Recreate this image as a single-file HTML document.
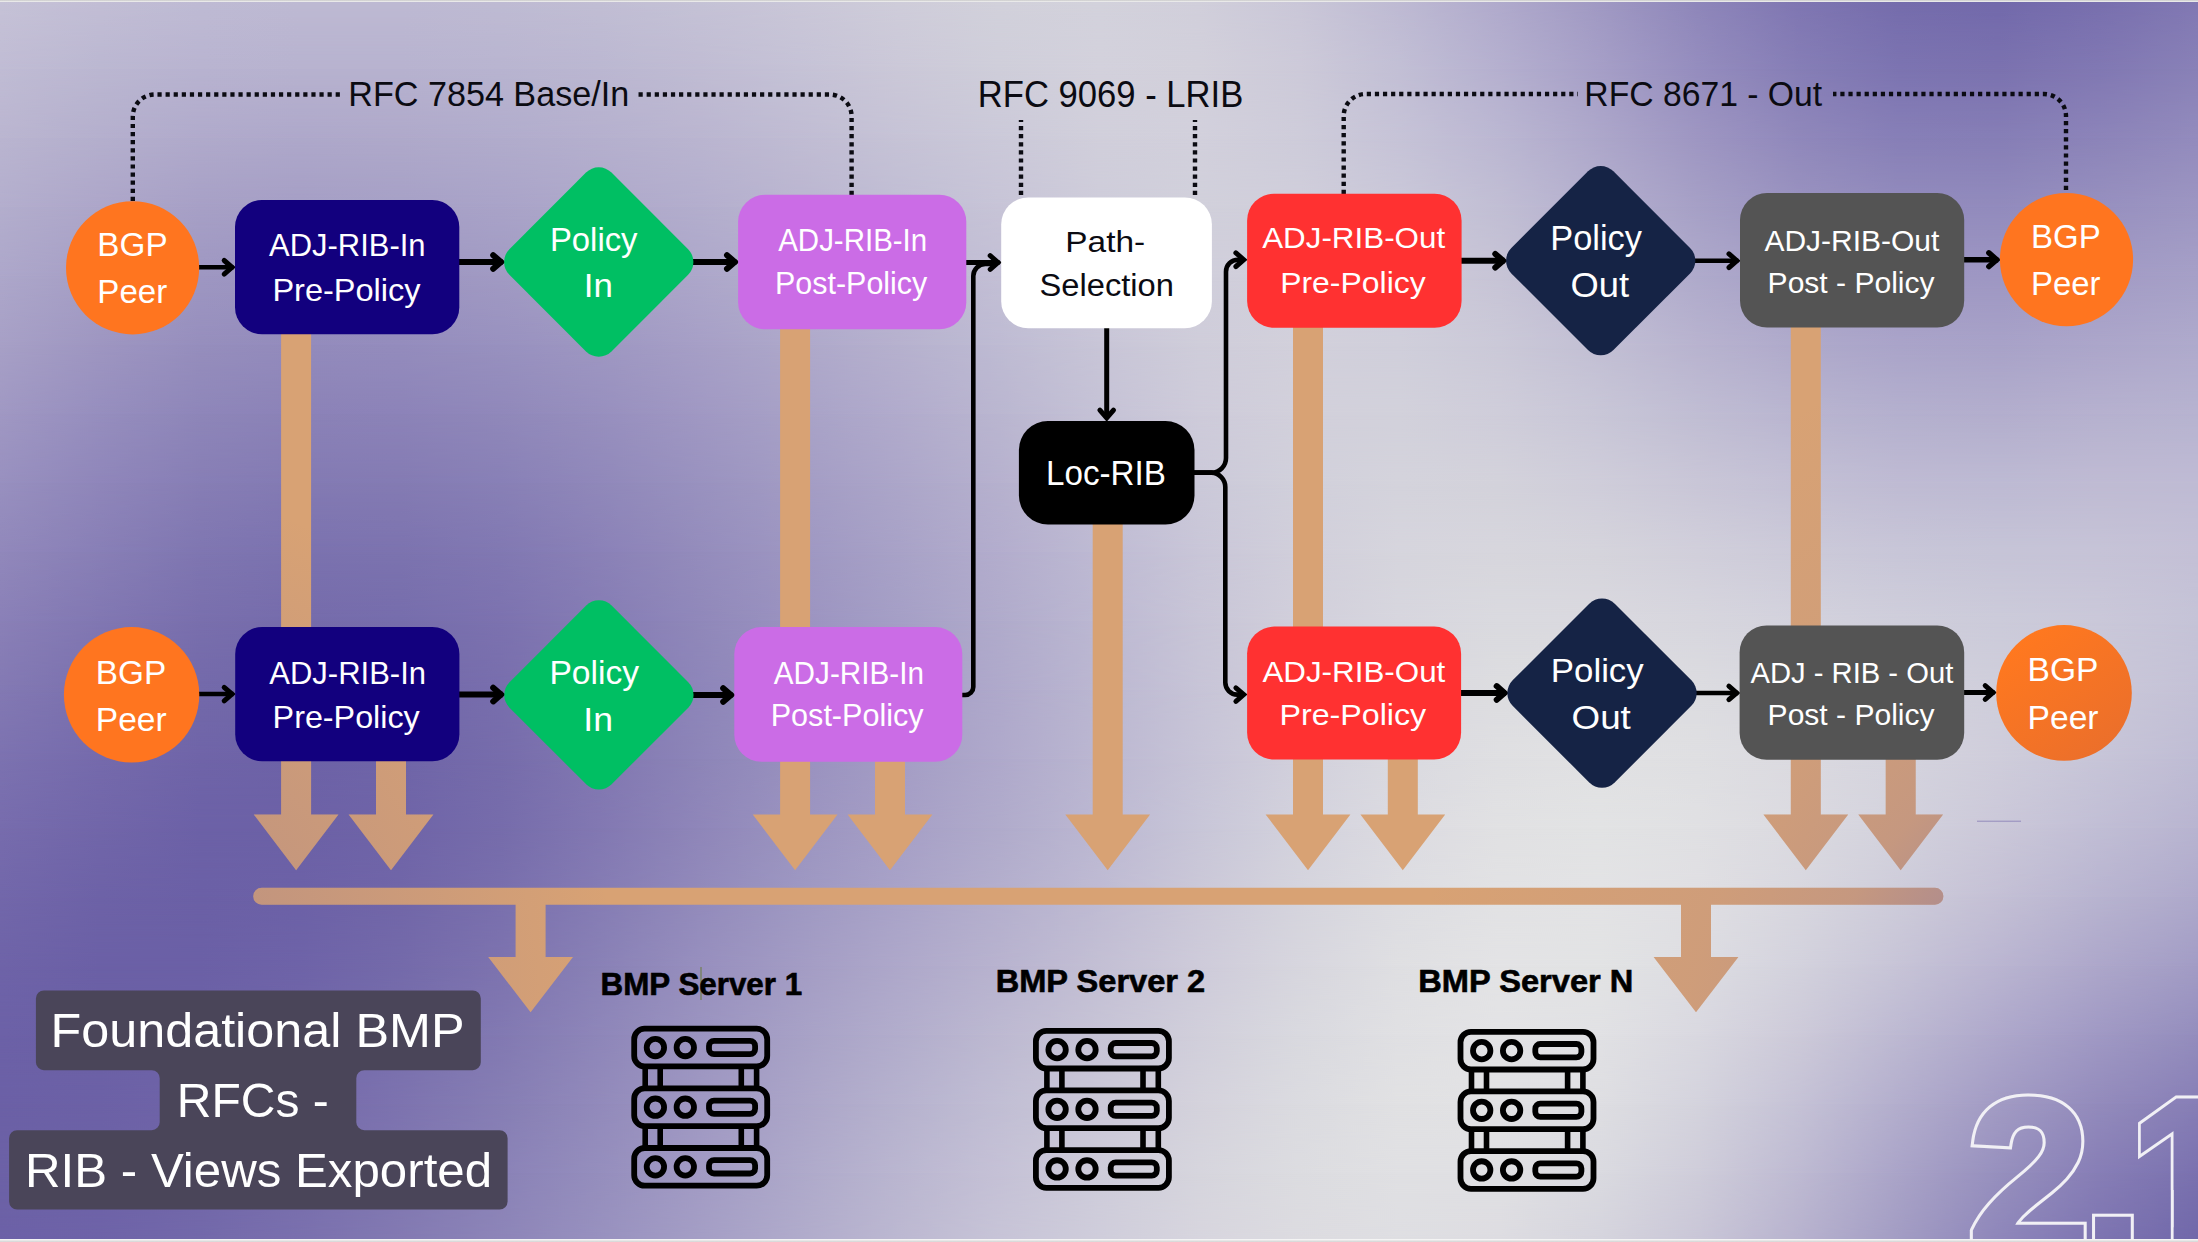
<!DOCTYPE html>
<html><head><meta charset="utf-8"><title>Foundational BMP RFCs - RIB Views Exported</title>
<style>
html,body{margin:0;padding:0}
body{width:2198px;height:1242px;overflow:hidden;position:relative;background:#d6d5dc;font-family:"Liberation Sans",sans-serif}
svg{position:absolute;left:0;top:0}
svg text{font-family:"Liberation Sans",sans-serif;white-space:pre}
.edge{position:absolute;left:0;width:2198px}
</style></head><body>
<div style="position:absolute;left:0;top:0;width:2198px;height:1242px;background:linear-gradient(90deg,#c6c2d7 0px,#c2bed5 100px,#bfbbd4 200px,#bebad3 300px,#bebad3 400px,#bfbbd3 500px,#c1bed4 599px,#c5c2d6 699px,#cac7d8 799px,#cfcdda 899px,#d2d1db 999px,#d3d2dc 1099px,#d1cfdb 1199px,#cac7d8 1299px,#bebad3 1399px,#b0aacc 1499px,#a099c3 1599px,#8e86ba 1698px,#7f76b2 1798px,#756cac 1898px,#7269ab 1998px,#786fae 2098px,#8178b3 2198px)"></div>
<div style="position:absolute;left:0;top:0.0px;width:2198px;height:1242.0px;background:linear-gradient(90deg,#c0bcd4 0px,#bbb7d1 100px,#b8b3d0 200px,#b7b2cf 300px,#b7b2cf 400px,#b8b4d0 500px,#bbb7d1 599px,#c0bcd3 699px,#c5c2d6 799px,#cbc8d8 899px,#cfceda 999px,#d3d1dc 1099px,#d2d0db 1199px,#cdcad9 1299px,#c2bfd5 1399px,#b5b0cf 1499px,#a69fc7 1599px,#958dbe 1698px,#867eb6 1798px,#7c74b1 1898px,#7b72af 1998px,#8178b3 2098px,#8981b7 2198px);-webkit-mask-image:linear-gradient(180deg,transparent 0,#000 69.0px);mask-image:linear-gradient(180deg,transparent 0,#000 69.0px)"></div>
<div style="position:absolute;left:0;top:69.0px;width:2198px;height:1173.0px;background:linear-gradient(90deg,#bab5d0 0px,#b4afcd 100px,#b0aacb 200px,#aea8ca 300px,#afa9ca 400px,#b1accc 500px,#b5b0ce 599px,#bab5d0 699px,#c0bcd3 799px,#c6c3d6 899px,#cbc9d9 999px,#d1cfdb 1099px,#d2d0dc 1199px,#ceccda 1299px,#c6c3d7 1399px,#bbb7d2 1499px,#ada7ca 1599px,#9e96c2 1698px,#9088bb 1798px,#877fb7 1898px,#867eb6 1998px,#8c84b9 2098px,#938bbd 2198px);-webkit-mask-image:linear-gradient(180deg,transparent 0,#000 69.0px);mask-image:linear-gradient(180deg,transparent 0,#000 69.0px)"></div>
<div style="position:absolute;left:0;top:138.0px;width:2198px;height:1104.0px;background:linear-gradient(90deg,#b3aecd 0px,#ada6c9 100px,#a7a0c6 200px,#a59ec5 300px,#a6a0c6 400px,#a9a3c8 500px,#aea8ca 599px,#b3aecd 699px,#bab5d0 799px,#c0bdd4 899px,#c7c4d7 999px,#ceccda 1099px,#d1d0db 1199px,#d0cedb 1299px,#cac8d9 1399px,#c1bed4 1499px,#b4afce 1599px,#a6a0c6 1698px,#9a93c0 1798px,#938cbd 1898px,#928bbd 1998px,#9790bf 2098px,#9d96c2 2198px);-webkit-mask-image:linear-gradient(180deg,transparent 0,#000 69.0px);mask-image:linear-gradient(180deg,transparent 0,#000 69.0px)"></div>
<div style="position:absolute;left:0;top:207.0px;width:2198px;height:1035.0px;background:linear-gradient(90deg,#ada7ca 0px,#a59ec5 100px,#9e97c2 200px,#9c94c0 300px,#9d96c1 400px,#a19ac3 500px,#a6a0c6 599px,#ada7ca 699px,#b4afcd 799px,#bbb7d1 899px,#c3bfd5 999px,#cbc9d9 1099px,#d0cedb 1199px,#d1cfdb 1299px,#ceccda 1399px,#c7c4d6 1499px,#bbb7d1 1599px,#afaacb 1698px,#a59fc6 1798px,#9f98c3 1898px,#9e97c3 1998px,#a29bc5 2098px,#a6a0c7 2198px);-webkit-mask-image:linear-gradient(180deg,transparent 0,#000 69.0px);mask-image:linear-gradient(180deg,transparent 0,#000 69.0px)"></div>
<div style="position:absolute;left:0;top:276.0px;width:2198px;height:966.0px;background:linear-gradient(90deg,#a7a0c6 0px,#9e96c1 100px,#968ebd 200px,#938bbc 300px,#948cbd 400px,#9891bf 500px,#9e97c2 599px,#a69fc6 699px,#aea8ca 799px,#b6b1ce 899px,#bebbd3 999px,#c8c5d7 1099px,#cfcdda 1199px,#d2d0db 1299px,#d0cfdb 1399px,#cbc9d8 1499px,#c2bfd4 1599px,#b8b3cf 1698px,#afaacb 1798px,#aaa4c9 1898px,#a8a2c8 1998px,#aca6ca 2098px,#afaacc 2198px);-webkit-mask-image:linear-gradient(180deg,transparent 0,#000 69.0px);mask-image:linear-gradient(180deg,transparent 0,#000 69.0px)"></div>
<div style="position:absolute;left:0;top:345.0px;width:2198px;height:897.0px;background:linear-gradient(90deg,#a098c3 0px,#968ebe 100px,#8e86b9 200px,#8b82b7 300px,#8c83b8 400px,#9088ba 500px,#978fbe 599px,#a098c3 699px,#a8a2c7 799px,#b1abcc 899px,#bab6d0 999px,#c5c2d6 1099px,#cecbda 1199px,#d2d0db 1299px,#d2d1db 1399px,#cfcdda 1499px,#c8c6d7 1599px,#c0bdd3 1698px,#b9b5d0 1798px,#b4b0ce 1898px,#b3aecd 1998px,#b6b1cf 2098px,#b7b3d0 2198px);-webkit-mask-image:linear-gradient(180deg,transparent 0,#000 69.0px);mask-image:linear-gradient(180deg,transparent 0,#000 69.0px)"></div>
<div style="position:absolute;left:0;top:414.0px;width:2198px;height:828.0px;background:linear-gradient(90deg,#9890bf 0px,#8f86ba 100px,#877eb5 200px,#837ab3 300px,#847bb3 400px,#8880b6 500px,#9088ba 599px,#9992bf 699px,#a39cc4 799px,#aca6c9 899px,#b6b1ce 999px,#c2bed4 1099px,#cbc9d9 1199px,#d1d0db 1299px,#d4d3dc 1399px,#d3d2db 1499px,#cfcdda 1599px,#c9c6d7 1698px,#c3c0d5 1798px,#bfbbd3 1898px,#bdbad3 1998px,#bfbbd3 2098px,#bfbbd4 2198px);-webkit-mask-image:linear-gradient(180deg,transparent 0,#000 69.0px);mask-image:linear-gradient(180deg,transparent 0,#000 69.0px)"></div>
<div style="position:absolute;left:0;top:483.0px;width:2198px;height:759.0px;background:linear-gradient(90deg,#9188bb 0px,#887fb6 100px,#7f76b1 200px,#7b72af 300px,#7c73af 400px,#8178b2 500px,#8a81b7 599px,#948cbc 699px,#9e97c2 799px,#a8a2c7 899px,#b3adcd 999px,#bebad3 1099px,#c9c6d8 1199px,#d1cfdb 1299px,#d6d5dd 1399px,#d7d6dd 1499px,#d5d4dc 1599px,#d1cfdb 1698px,#cccad9 1798px,#c8c6d8 1898px,#c6c4d7 1998px,#c6c3d7 2098px,#c4c0d6 2198px);-webkit-mask-image:linear-gradient(180deg,transparent 0,#000 69.0px);mask-image:linear-gradient(180deg,transparent 0,#000 69.0px)"></div>
<div style="position:absolute;left:0;top:552.0px;width:2198px;height:690.0px;background:linear-gradient(90deg,#8a80b7 0px,#8177b2 100px,#796fad 200px,#756bab 300px,#766dac 400px,#7c72af 500px,#857cb4 599px,#9088ba 699px,#9b93c0 799px,#a59fc6 899px,#b0abcb 999px,#bcb8d2 1099px,#c8c5d7 1199px,#d1cfdb 1299px,#d7d6de 1399px,#dadadf 1499px,#dad9df 1599px,#d7d6de 1698px,#d3d2dd 1798px,#cfcedb 1898px,#cccbda 1998px,#cac8d9 2098px,#c5c3d7 2198px);-webkit-mask-image:linear-gradient(180deg,transparent 0,#000 69.0px);mask-image:linear-gradient(180deg,transparent 0,#000 69.0px)"></div>
<div style="position:absolute;left:0;top:621.0px;width:2198px;height:621.0px;background:linear-gradient(90deg,#8379b3 0px,#7a70ae 100px,#7369aa 200px,#7066a8 300px,#7268a9 400px,#786ead 500px,#8279b2 599px,#8d85b9 699px,#9991bf 799px,#a49dc5 899px,#afa9cb 999px,#bbb7d1 1099px,#c7c4d7 1199px,#d1cfdb 1299px,#d9d8df 1399px,#dddde0 1499px,#dedee1 1599px,#dcdce0 1698px,#d8d7df 1798px,#d4d3dd 1898px,#cfcedb 1998px,#cac8d9 2098px,#c4c1d6 2198px);-webkit-mask-image:linear-gradient(180deg,transparent 0,#000 69.0px);mask-image:linear-gradient(180deg,transparent 0,#000 69.0px)"></div>
<div style="position:absolute;left:0;top:690.0px;width:2198px;height:552.0px;background:linear-gradient(90deg,#7c72b0 0px,#756aac 100px,#6f64a8 200px,#6d62a7 300px,#6f65a8 400px,#766cab 500px,#8177b1 599px,#8d85b8 699px,#9991bf 799px,#a49dc5 899px,#afa9cb 999px,#bbb7d1 1099px,#c7c4d7 1199px,#d2d0dc 1299px,#dadae0 1399px,#dfdfe2 1499px,#e1e1e3 1599px,#dfdfe2 1698px,#dbdae0 1798px,#d5d4de 1898px,#cfcddb 1998px,#c7c5d8 2098px,#bfbcd4 2198px);-webkit-mask-image:linear-gradient(180deg,transparent 0,#000 69.0px);mask-image:linear-gradient(180deg,transparent 0,#000 69.0px)"></div>
<div style="position:absolute;left:0;top:759.0px;width:2198px;height:483.0px;background:linear-gradient(90deg,#776cad 0px,#7166a9 100px,#6c61a7 200px,#6c61a6 300px,#6f64a8 400px,#766cab 500px,#8278b2 599px,#8f86b9 699px,#9b94c0 799px,#a69fc6 899px,#b0abcb 999px,#bcb8d2 1099px,#c8c6d8 1199px,#d3d2dd 1299px,#dcdbe1 1399px,#e1e1e3 1499px,#e2e3e4 1599px,#e0e0e3 1698px,#dbdae0 1798px,#d3d2dd 1898px,#cbc8d9 1998px,#c1bed5 2098px,#b8b4d0 2198px);-webkit-mask-image:linear-gradient(180deg,transparent 0,#000 69.0px);mask-image:linear-gradient(180deg,transparent 0,#000 69.0px)"></div>
<div style="position:absolute;left:0;top:828.0px;width:2198px;height:414.0px;background:linear-gradient(90deg,#7267aa 0px,#6d62a7 100px,#6b60a6 200px,#6c61a7 300px,#7166a8 400px,#796fad 500px,#857cb4 599px,#928abb 699px,#9e98c2 799px,#a9a3c8 899px,#b4afcd 999px,#bfbbd3 1099px,#cbc8d8 1199px,#d5d4dd 1299px,#dddde2 1399px,#e2e2e4 1499px,#e3e3e5 1599px,#e0dfe3 1698px,#d8d7df 1798px,#ceccda 1898px,#c4c0d5 1998px,#b8b4d0 2098px,#aea9cb 2198px);-webkit-mask-image:linear-gradient(180deg,transparent 0,#000 69.0px);mask-image:linear-gradient(180deg,transparent 0,#000 69.0px)"></div>
<div style="position:absolute;left:0;top:897.0px;width:2198px;height:345.0px;background:linear-gradient(90deg,#6e63a8 0px,#6b60a6 100px,#6b60a6 200px,#6e63a8 300px,#746aaa 400px,#7d73af 500px,#8981b6 599px,#978fbe 699px,#a39cc4 799px,#aea8ca 899px,#b8b3cf 999px,#c3bfd4 1099px,#cecbda 1199px,#d7d6de 1299px,#dfdfe2 1399px,#e3e3e5 1499px,#e2e3e4 1599px,#dddde2 1698px,#d3d2dd 1798px,#c7c4d7 1898px,#bab5d1 1998px,#ada7ca 2098px,#a29cc5 2198px);-webkit-mask-image:linear-gradient(180deg,transparent 0,#000 69.0px);mask-image:linear-gradient(180deg,transparent 0,#000 69.0px)"></div>
<div style="position:absolute;left:0;top:966.0px;width:2198px;height:276.0px;background:linear-gradient(90deg,#6c61a7 0px,#6b60a6 100px,#6d62a7 200px,#7167a9 300px,#786fad 400px,#8279b2 500px,#8e86b9 599px,#9b94c0 699px,#a7a1c6 799px,#b2adcc 899px,#bdb9d1 999px,#c7c4d6 1099px,#d1cfdb 1199px,#d9d9df 1299px,#e0e0e3 1399px,#e3e3e5 1499px,#e1e1e4 1599px,#d9d8e0 1698px,#cdcad9 1798px,#bdb9d2 1898px,#aea8cb 1998px,#a099c4 2098px,#948dbd 2198px);-webkit-mask-image:linear-gradient(180deg,transparent 0,#000 69.0px);mask-image:linear-gradient(180deg,transparent 0,#000 69.0px)"></div>
<div style="position:absolute;left:0;top:1035.0px;width:2198px;height:207.0px;background:linear-gradient(90deg,#6b60a6 0px,#6c61a6 100px,#6f64a8 200px,#756aab 300px,#7d73af 400px,#867eb4 500px,#928abb 599px,#9f98c2 699px,#aba5c8 799px,#b6b2ce 899px,#c1bed4 999px,#cbc8d8 1099px,#d4d2dc 1199px,#dbdbe0 1299px,#e1e1e3 1399px,#e2e2e4 1499px,#dedee2 1599px,#d4d3dd 1698px,#c5c2d6 1798px,#b3aecd 1898px,#a29bc4 1998px,#938bbc 2098px,#877eb6 2198px);-webkit-mask-image:linear-gradient(180deg,transparent 0,#000 69.0px);mask-image:linear-gradient(180deg,transparent 0,#000 69.0px)"></div>
<div style="position:absolute;left:0;top:1104.0px;width:2198px;height:138.0px;background:linear-gradient(90deg,#6c61a6 0px,#6d62a7 100px,#7166a9 200px,#786eac 300px,#8077b1 400px,#8a82b7 500px,#958ebd 599px,#a29bc4 699px,#aea9ca 799px,#bab6d0 899px,#c5c1d6 999px,#ceccda 1099px,#d6d5dd 1199px,#dcdce0 1299px,#e0e0e3 1399px,#e0e0e3 1499px,#dadae0 1599px,#cfcdda 1698px,#bebad2 1798px,#aaa4c8 1898px,#9790be 1998px,#877eb6 2098px,#7a71af 2198px);-webkit-mask-image:linear-gradient(180deg,transparent 0,#000 69.0px);mask-image:linear-gradient(180deg,transparent 0,#000 69.0px)"></div>
<div style="position:absolute;left:0;top:1173.0px;width:2198px;height:69.0px;background:linear-gradient(90deg,#6c61a7 0px,#6e63a8 100px,#7369aa 200px,#7a70ae 300px,#837ab2 400px,#8d85b8 500px,#9891bf 599px,#a49ec5 699px,#b0abcb 799px,#bcb8d1 899px,#c7c4d7 999px,#cfcddb 1099px,#d7d5de 1199px,#dcdbe0 1299px,#dedee2 1399px,#dddce1 1499px,#d5d4dd 1599px,#c9c6d7 1698px,#b7b2ce 1798px,#a29cc3 1898px,#8e86ba 1998px,#7d74b1 2098px,#7067a9 2198px);-webkit-mask-image:linear-gradient(180deg,transparent 0,#000 69.0px);mask-image:linear-gradient(180deg,transparent 0,#000 69.0px)"></div>
<svg width="2198" height="1242" viewBox="0 0 2198 1242">
<defs><clipPath id="tanclip"><path d="M281.1,300 V814.4 H253.7 L296.1,870.3 L338.5,814.4 H311.1 V300 Z M376.0,740 V814.4 H348.6 L391.0,870.3 L433.4,814.4 H406.0 V740 Z M780.1,300 V814.4 H752.7 L795.1,870.3 L837.5,814.4 H810.1 V300 Z M875.0,740 V814.4 H847.6 L890.0,870.3 L932.4,814.4 H905.0 V740 Z M1092.7,500 V814.4 H1065.3 L1107.7,870.3 L1150.1,814.4 H1122.7 V500 Z M1293.0,300 V814.4 H1265.6 L1308.0,870.3 L1350.4,814.4 H1323.0 V300 Z M1387.8,740 V814.4 H1360.4 L1402.8,870.3 L1445.2,814.4 H1417.8 V740 Z M1790.8,300 V814.4 H1763.4 L1805.8,870.3 L1848.2,814.4 H1820.8 V300 Z M1885.7,740 V814.4 H1858.3 L1900.7,870.3 L1943.1,814.4 H1915.7 V740 Z M515.6,896 V957 H488.2 L530.6,1012.2 L573.0,957 H545.6 V896 Z M1681.0,896 V957 H1653.6 L1696.0,1012.2 L1738.4,957 H1711.0 V896 Z M261.7,904.7 H1934.9 A8.5,8.5 0 0 0 1934.9,887.7 H261.7 A8.5,8.5 0 0 0 261.7,904.7 Z"/></clipPath><radialGradient id="ovL" gradientUnits="userSpaceOnUse" cx="100" cy="1000" r="520"><stop offset="0" stop-color="#6b60a6" stop-opacity=".3"/><stop offset="1" stop-color="#6b60a6" stop-opacity="0"/></radialGradient><radialGradient id="ovR" gradientUnits="userSpaceOnUse" cx="2198" cy="1100" r="800"><stop offset="0" stop-color="#7a6fae" stop-opacity=".6"/><stop offset=".41" stop-color="#7a6fae" stop-opacity=".38"/><stop offset=".5" stop-color="#7a6fae" stop-opacity=".2"/><stop offset=".65" stop-color="#7a6fae" stop-opacity=".1"/><stop offset="1" stop-color="#7a6fae" stop-opacity="0"/></radialGradient><linearGradient id="orG" x1="0.2" y1="0.1" x2="0.9" y2="1"><stop offset="0" stop-color="#ff781f"/><stop offset="1" stop-color="#e96e2c"/></linearGradient></defs>
<path fill="#d8a274" d="M281.1,300 V814.4 H253.7 L296.1,870.3 L338.5,814.4 H311.1 V300 Z M376.0,740 V814.4 H348.6 L391.0,870.3 L433.4,814.4 H406.0 V740 Z M780.1,300 V814.4 H752.7 L795.1,870.3 L837.5,814.4 H810.1 V300 Z M875.0,740 V814.4 H847.6 L890.0,870.3 L932.4,814.4 H905.0 V740 Z M1092.7,500 V814.4 H1065.3 L1107.7,870.3 L1150.1,814.4 H1122.7 V500 Z M1293.0,300 V814.4 H1265.6 L1308.0,870.3 L1350.4,814.4 H1323.0 V300 Z M1387.8,740 V814.4 H1360.4 L1402.8,870.3 L1445.2,814.4 H1417.8 V740 Z M1790.8,300 V814.4 H1763.4 L1805.8,870.3 L1848.2,814.4 H1820.8 V300 Z M1885.7,740 V814.4 H1858.3 L1900.7,870.3 L1943.1,814.4 H1915.7 V740 Z M515.6,896 V957 H488.2 L530.6,1012.2 L573.0,957 H545.6 V896 Z M1681.0,896 V957 H1653.6 L1696.0,1012.2 L1738.4,957 H1711.0 V896 Z M261.7,904.7 H1934.9 A8.5,8.5 0 0 0 1934.9,887.7 H261.7 A8.5,8.5 0 0 0 261.7,904.7 Z"/>
<g clip-path="url(#tanclip)"><rect x="0" y="500" width="700" height="742" fill="url(#ovL)"/><rect x="1400" y="300" width="798" height="942" fill="url(#ovR)"/></g>
<path fill="none" stroke="#0b0b12" stroke-width="4.4" stroke-dasharray="4.2 3.9" d="M132.8,201 V116.5 A22,22 0 0 1 154.8,94.5 H343"/>
<path fill="none" stroke="#0b0b12" stroke-width="4.4" stroke-dasharray="4.2 3.9" d="M851.6,195 V116.5 A22,22 0 0 0 829.6,94.5 H635"/>
<path fill="none" stroke="#0b0b12" stroke-width="4.4" stroke-dasharray="4.2 3.9" d="M1021,195 V120"/>
<path fill="none" stroke="#0b0b12" stroke-width="4.4" stroke-dasharray="4.2 3.9" d="M1195,195 V120"/>
<path fill="none" stroke="#0b0b12" stroke-width="4.4" stroke-dasharray="4.2 3.9" d="M1343.7,194 V116 A22,22 0 0 1 1365.7,94 H1578"/>
<path fill="none" stroke="#0b0b12" stroke-width="4.4" stroke-dasharray="4.2 3.9" d="M2066,190 V116 A22,22 0 0 0 2044,94 H1833"/>
<path fill="none" stroke="#000" stroke-width="4.5" d="M198,267.3 H233.5"/><path fill="none" stroke="#000" stroke-width="5" stroke-linecap="round" stroke-linejoin="miter" d="M224.2,260.5 L232.0,267.3 L224.2,274.1"/>
<path fill="none" stroke="#000" stroke-width="6" d="M458,262 H502.5"/><path fill="none" stroke="#000" stroke-width="6" stroke-linecap="round" stroke-linejoin="miter" d="M493.2,255.2 L501.0,262 L493.2,268.8"/>
<path fill="none" stroke="#000" stroke-width="6" d="M692,262 H736.3"/><path fill="none" stroke="#000" stroke-width="6" stroke-linecap="round" stroke-linejoin="miter" d="M727.0,255.2 L734.8,262 L727.0,268.8"/>
<path fill="none" stroke="#000" stroke-width="5" d="M964,262.5 H999.5"/><path fill="none" stroke="#000" stroke-width="5" stroke-linecap="round" stroke-linejoin="miter" d="M990.2,255.7 L998.0,262.5 L990.2,269.3"/>
<path fill="none" stroke="#000" stroke-width="6" d="M1460,260.7 H1504.6"/><path fill="none" stroke="#000" stroke-width="6" stroke-linecap="round" stroke-linejoin="miter" d="M1495.3,253.89999999999998 L1503.1,260.7 L1495.3,267.5"/>
<path fill="none" stroke="#000" stroke-width="4.5" d="M1694,260.7 H1738.3"/><path fill="none" stroke="#000" stroke-width="5" stroke-linecap="round" stroke-linejoin="miter" d="M1729.0,253.89999999999998 L1736.8,260.7 L1729.0,267.5"/>
<path fill="none" stroke="#000" stroke-width="5.5" d="M1963,259.7 H1998.2"/><path fill="none" stroke="#000" stroke-width="5.5" stroke-linecap="round" stroke-linejoin="miter" d="M1988.9,252.89999999999998 L1996.7,259.7 L1988.9,266.5"/>
<path fill="none" stroke="#000" stroke-width="4.5" d="M198,694.1 H233.5"/><path fill="none" stroke="#000" stroke-width="5" stroke-linecap="round" stroke-linejoin="miter" d="M224.2,687.3000000000001 L232.0,694.1 L224.2,700.9"/>
<path fill="none" stroke="#000" stroke-width="6" d="M458,694.6 H502.5"/><path fill="none" stroke="#000" stroke-width="6" stroke-linecap="round" stroke-linejoin="miter" d="M493.2,687.8000000000001 L501.0,694.6 L493.2,701.4"/>
<path fill="none" stroke="#000" stroke-width="6" d="M692,695 H732.5"/><path fill="none" stroke="#000" stroke-width="6" stroke-linecap="round" stroke-linejoin="miter" d="M723.2,688.2 L731.0,695 L723.2,701.8"/>
<path fill="none" stroke="#000" stroke-width="6" d="M1460,692.9 H1506"/><path fill="none" stroke="#000" stroke-width="6" stroke-linecap="round" stroke-linejoin="miter" d="M1496.7,686.1 L1504.5,692.9 L1496.7,699.6999999999999"/>
<path fill="none" stroke="#000" stroke-width="4.5" d="M1695,692.9 H1738.2"/><path fill="none" stroke="#000" stroke-width="5" stroke-linecap="round" stroke-linejoin="miter" d="M1728.9,686.1 L1736.7,692.9 L1728.9,699.6999999999999"/>
<path fill="none" stroke="#000" stroke-width="5" d="M1963,692.5 H1994.5"/><path fill="none" stroke="#000" stroke-width="5" stroke-linecap="round" stroke-linejoin="miter" d="M1985.2,685.7 L1993.0,692.5 L1985.2,699.3"/>
<path fill="none" stroke="#000" stroke-width="4.6" d="M960,695 H965.3 A8,8 0 0 0 973.3,687 V276 A12,12 0 0 1 985.3,264 H992"/>
<path fill="none" stroke="#000" stroke-width="5" d="M1106.7,326 V417"/>
<path fill="none" stroke="#000" stroke-width="5" stroke-linecap="round" stroke-linejoin="miter" d="M1099.9,410.2 L1106.7,418.0 L1113.5,410.2"/>
<path fill="none" stroke="#000" stroke-width="4.6" d="M1192,472.6 H1211.5 A14.5,14.5 0 0 0 1226,458 V271.7 A12,12 0 0 1 1238,259.7 H1244"/>
<path fill="none" stroke="#000" stroke-width="5" stroke-linecap="round" stroke-linejoin="miter" d="M1235.9,252.89999999999998 L1243.7,259.7 L1235.9,266.5"/>
<path fill="none" stroke="#000" stroke-width="4.6" d="M1192,472.6 H1211.5 A14.5,14.5 0 0 1 1225.3,487 V682.6 A12,12 0 0 0 1237.3,694.6 H1244"/>
<path fill="none" stroke="#000" stroke-width="5" stroke-linecap="round" stroke-linejoin="miter" d="M1235.9,687.8000000000001 L1243.7,694.6 L1235.9,701.4"/>
<circle cx="132.6" cy="267.8" r="66.6" fill="#ff751f"/>
<rect x="235" y="200" width="224.3" height="134.2" rx="27" fill="#12007e"/>
<rect x="-72.2" y="-72.2" width="144.4" height="144.4" rx="18" fill="#00bf63" transform="translate(598.75,262) rotate(45)"/>
<rect x="738.1" y="194.8" width="228.2" height="134.4" rx="27" fill="#cb6ce6"/>
<rect x="1001.2" y="197.4" width="210.7" height="130.8" rx="27" fill="#fff"/>
<rect x="1247.1" y="193.7" width="214.5" height="134.1" rx="27" fill="#ff3131"/>
<rect x="-72.2" y="-72.2" width="144.4" height="144.4" rx="18" fill="#152345" transform="translate(1600.7,260.7) rotate(45)"/>
<rect x="1740" y="193" width="224.2" height="134.6" rx="27" fill="#545454"/>
<circle cx="2066.5" cy="259.6" r="66.6" fill="#ff751f"/>
<rect x="1018.9" y="421" width="175.6" height="103.5" rx="29" fill="#000"/>
<circle cx="131.6" cy="694.8" r="67.7" fill="#ff751f"/>
<rect x="235.2" y="627" width="224.2" height="134.2" rx="27" fill="#12007e"/>
<rect x="-72.2" y="-72.2" width="144.4" height="144.4" rx="18" fill="#00bf63" transform="translate(598.9,694.9) rotate(45)"/>
<rect x="734.3" y="627.1" width="228.0" height="134.6" rx="27" fill="#cb6ce6"/>
<rect x="1247.1" y="626.6" width="214.0" height="133.0" rx="27" fill="#ff3131"/>
<rect x="-72.2" y="-72.2" width="144.4" height="144.4" rx="18" fill="#152345" transform="translate(1602,693.1) rotate(45)"/>
<rect x="1739.6" y="625.4" width="224.6" height="134.4" rx="27" fill="#545454"/>
<circle cx="2064" cy="692.9" r="67.8" fill="url(#orG)"/>
<path d="M1977,821.2 H2021" stroke="#7a70ae" stroke-width="1" opacity=".7"/>
<path d="M43.9,990.4 H472.8 A8,8 0 0 1 480.8,998.4 V1062.2 A8,8 0 0 1 472.8,1070.2 H364.3 A8,8 0 0 0 356.3,1078.2 V1122.2 A8,8 0 0 0 364.3,1130.2 H499.6 A8,8 0 0 1 507.6,1138.2 V1201.6 A8,8 0 0 1 499.6,1209.6 H17.1 A8,8 0 0 1 9.1,1201.6 V1138.2 A8,8 0 0 1 17.1,1130.2 H151.7 A8,8 0 0 0 159.7,1122.2 V1078.2 A8,8 0 0 0 151.7,1070.2 H43.9 A8,8 0 0 1 35.9,1062.2 V998.4 A8,8 0 0 1 43.9,990.4 Z" fill="#4a4559"/>
<g transform="translate(631.3,1025.8)" fill="none" stroke="#000" stroke-width="5.8"><rect x="2.9" y="2.90" width="133" height="37.7" rx="10.5"/><circle cx="24.1" cy="21.75" r="8.7"/><circle cx="54" cy="21.75" r="8.7"/><rect x="77.7" y="15.10" width="46.1" height="13.3" rx="5"/><path d="M13.9,42.0 V61.5" stroke-width="5.6"/><path d="M28.9,42.0 V61.5" stroke-width="5.6"/><path d="M110,42.0 V61.5" stroke-width="5.6"/><path d="M125.3,42.0 V61.5" stroke-width="5.6"/><rect x="2.9" y="62.55" width="133" height="37.7" rx="10.5"/><circle cx="24.1" cy="81.40" r="8.7"/><circle cx="54" cy="81.40" r="8.7"/><rect x="77.7" y="74.75" width="46.1" height="13.3" rx="5"/><path d="M13.9,101.65 V121.15" stroke-width="5.6"/><path d="M28.9,101.65 V121.15" stroke-width="5.6"/><path d="M110,101.65 V121.15" stroke-width="5.6"/><path d="M125.3,101.65 V121.15" stroke-width="5.6"/><rect x="2.9" y="122.20" width="133" height="37.7" rx="10.5"/><circle cx="24.1" cy="141.05" r="8.7"/><circle cx="54" cy="141.05" r="8.7"/><rect x="77.7" y="134.40" width="46.1" height="13.3" rx="5"/></g>
<g transform="translate(1033,1027.9)" fill="none" stroke="#000" stroke-width="5.8"><rect x="2.9" y="2.90" width="133" height="37.7" rx="10.5"/><circle cx="24.1" cy="21.75" r="8.7"/><circle cx="54" cy="21.75" r="8.7"/><rect x="77.7" y="15.10" width="46.1" height="13.3" rx="5"/><path d="M13.9,42.0 V61.5" stroke-width="5.6"/><path d="M28.9,42.0 V61.5" stroke-width="5.6"/><path d="M110,42.0 V61.5" stroke-width="5.6"/><path d="M125.3,42.0 V61.5" stroke-width="5.6"/><rect x="2.9" y="62.55" width="133" height="37.7" rx="10.5"/><circle cx="24.1" cy="81.40" r="8.7"/><circle cx="54" cy="81.40" r="8.7"/><rect x="77.7" y="74.75" width="46.1" height="13.3" rx="5"/><path d="M13.9,101.65 V121.15" stroke-width="5.6"/><path d="M28.9,101.65 V121.15" stroke-width="5.6"/><path d="M110,101.65 V121.15" stroke-width="5.6"/><path d="M125.3,101.65 V121.15" stroke-width="5.6"/><rect x="2.9" y="122.20" width="133" height="37.7" rx="10.5"/><circle cx="24.1" cy="141.05" r="8.7"/><circle cx="54" cy="141.05" r="8.7"/><rect x="77.7" y="134.40" width="46.1" height="13.3" rx="5"/></g>
<g transform="translate(1457.6,1028.9)" fill="none" stroke="#000" stroke-width="5.8"><rect x="2.9" y="2.90" width="133" height="37.7" rx="10.5"/><circle cx="24.1" cy="21.75" r="8.7"/><circle cx="54" cy="21.75" r="8.7"/><rect x="77.7" y="15.10" width="46.1" height="13.3" rx="5"/><path d="M13.9,42.0 V61.5" stroke-width="5.6"/><path d="M28.9,42.0 V61.5" stroke-width="5.6"/><path d="M110,42.0 V61.5" stroke-width="5.6"/><path d="M125.3,42.0 V61.5" stroke-width="5.6"/><rect x="2.9" y="62.55" width="133" height="37.7" rx="10.5"/><circle cx="24.1" cy="81.40" r="8.7"/><circle cx="54" cy="81.40" r="8.7"/><rect x="77.7" y="74.75" width="46.1" height="13.3" rx="5"/><path d="M13.9,101.65 V121.15" stroke-width="5.6"/><path d="M28.9,101.65 V121.15" stroke-width="5.6"/><path d="M110,101.65 V121.15" stroke-width="5.6"/><path d="M125.3,101.65 V121.15" stroke-width="5.6"/><rect x="2.9" y="122.20" width="133" height="37.7" rx="10.5"/><circle cx="24.1" cy="141.05" r="8.7"/><circle cx="54" cy="141.05" r="8.7"/><rect x="77.7" y="134.40" width="46.1" height="13.3" rx="5"/></g>
<path d="M701,967 V1000" stroke="#6b7d3a" stroke-width="1"/>
<text transform="translate(348.27,106.30) scale(0.9504,1)" font-size="35.94" fill="#0b0b12">RFC 7854 Base/In</text>
<text transform="translate(977.83,106.50) scale(0.9558,1)" font-size="36.23" fill="#0b0b12">RFC 9069 - LRIB</text>
<text transform="translate(1584.30,106.30) scale(0.9381,1)" font-size="35.94" fill="#0b0b12">RFC 8671 - Out</text>
<text transform="translate(97.34,255.70) scale(0.9985,1)" font-size="33.33" fill="#fff">BGP</text>
<text transform="translate(97.36,302.80) scale(0.9916,1)" font-size="33.33" fill="#fff">Peer</text>
<text transform="translate(269.00,255.90) scale(1.0084,1)" font-size="30.72" fill="#fff">ADJ-RIB-In</text>
<text transform="translate(272.40,300.70) scale(1.0582,1)" font-size="30.72" fill="#fff">Pre-Policy</text>
<text transform="translate(549.97,250.60) scale(0.9976,1)" font-size="32.90" fill="#fff">Policy</text>
<text transform="translate(583.86,297.40) scale(1.0594,1)" font-size="32.90" fill="#fff">In</text>
<text transform="translate(778.20,251.20) scale(0.9595,1)" font-size="30.72" fill="#fff">ADJ-RIB-In</text>
<text transform="translate(775.06,293.60) scale(0.9910,1)" font-size="30.72" fill="#fff">Post-Policy</text>
<text transform="translate(1065.33,251.70) scale(1.0981,1)" font-size="30.43" fill="#0b0b12">Path-</text>
<text transform="translate(1039.53,295.60) scale(1.0739,1)" font-size="30.43" fill="#0b0b12">Selection</text>
<text transform="translate(1262.20,248.40) scale(1.0405,1)" font-size="30.14" fill="#fff">ADJ-RIB-Out</text>
<text transform="translate(1280.14,293.30) scale(1.0601,1)" font-size="30.14" fill="#fff">Pre-Policy</text>
<text transform="translate(1550.25,250.10) scale(0.9571,1)" font-size="35.94" fill="#fff">Policy</text>
<text transform="translate(1570.46,297.40) scale(1.0112,1)" font-size="35.94" fill="#fff">Out</text>
<text transform="translate(1764.40,250.50) scale(1.0100,1)" font-size="29.71" fill="#fff">ADJ-RIB-Out</text>
<text transform="translate(1767.59,292.50) scale(1.0119,1)" font-size="29.71" fill="#fff">Post - Policy</text>
<text transform="translate(2031.06,247.70) scale(1.0025,1)" font-size="32.90" fill="#fff">BGP</text>
<text transform="translate(2031.08,294.50) scale(0.9971,1)" font-size="32.90" fill="#fff">Peer</text>
<text transform="translate(1046.04,485.00) scale(0.9663,1)" font-size="34.35" fill="#fff">Loc-RIB</text>
<text transform="translate(95.83,683.70) scale(1.0222,1)" font-size="32.61" fill="#fff">BGP</text>
<text transform="translate(95.82,730.70) scale(1.0288,1)" font-size="32.61" fill="#fff">Peer</text>
<text transform="translate(269.20,684.10) scale(1.0145,1)" font-size="30.58" fill="#fff">ADJ-RIB-In</text>
<text transform="translate(272.61,727.70) scale(1.0567,1)" font-size="30.58" fill="#fff">Pre-Policy</text>
<text transform="translate(549.41,684.00) scale(1.0089,1)" font-size="33.33" fill="#fff">Policy</text>
<text transform="translate(583.30,730.80) scale(1.0676,1)" font-size="33.33" fill="#fff">In</text>
<text transform="translate(773.80,684.00) scale(0.9666,1)" font-size="30.72" fill="#fff">ADJ-RIB-In</text>
<text transform="translate(770.75,726.00) scale(0.9949,1)" font-size="30.72" fill="#fff">Post-Policy</text>
<text transform="translate(1262.40,681.90) scale(1.0557,1)" font-size="29.71" fill="#fff">ADJ-RIB-Out</text>
<text transform="translate(1279.42,725.20) scale(1.0846,1)" font-size="29.71" fill="#fff">Pre-Policy</text>
<text transform="translate(1550.81,681.90) scale(1.0226,1)" font-size="34.06" fill="#fff">Policy</text>
<text transform="translate(1571.54,729.00) scale(1.0804,1)" font-size="34.06" fill="#fff">Out</text>
<text transform="translate(1750.40,682.50) scale(0.9836,1)" font-size="29.71" fill="#fff">ADJ - RIB - Out</text>
<text transform="translate(1767.59,724.50) scale(1.0119,1)" font-size="29.71" fill="#fff">Post - Policy</text>
<text transform="translate(2027.61,681.10) scale(1.0392,1)" font-size="32.32" fill="#fff">BGP</text>
<text transform="translate(2027.61,728.50) scale(1.0396,1)" font-size="32.32" fill="#fff">Peer</text>
<text transform="translate(50.47,1047.40) scale(1.0307,1)" font-size="48.84" fill="#fff">Foundational BMP</text>
<text transform="translate(176.76,1117.40) scale(0.9831,1)" font-size="48.84" fill="#fff">RFCs -</text>
<text transform="translate(25.06,1187.40) scale(1.0084,1)" font-size="48.84" fill="#fff">RIB - Views Exported</text>
<text transform="translate(600.56,994.60) scale(1.0211,1)" font-size="30.72" fill="#000" font-weight="700" stroke="#000" stroke-width="0.6">BMP Server 1</text>
<text transform="translate(995.68,991.90) scale(1.0463,1)" font-size="31.16" fill="#000" font-weight="700" stroke="#000" stroke-width="0.6">BMP Server 2</text>
<text transform="translate(1418.18,991.90) scale(1.0474,1)" font-size="31.16" fill="#000" font-weight="700" stroke="#000" stroke-width="0.6">BMP Server N</text>
<mask id="m21" maskUnits="userSpaceOnUse" x="1940" y="1060" width="260" height="190"><rect x="1940" y="1060" width="260" height="190" fill="#000"/><text transform="translate(1967.81,1252.40) scale(1.0043,1)" font-size="218.86" font-weight="700" fill="#fff" stroke="#fff" stroke-width="11" stroke-linejoin="miter" stroke-miterlimit="8">2</text><text transform="translate(2082.83,1252.40) scale(0.9958,1)" font-size="218.86" font-weight="700" fill="#fff" stroke="#fff" stroke-width="11" stroke-linejoin="miter" stroke-miterlimit="8">.</text><text transform="translate(2129.41,1252.40) scale(0.9058,1)" font-size="218.86" font-weight="700" fill="#fff" stroke="#fff" stroke-width="11" stroke-linejoin="miter" stroke-miterlimit="8">1</text><text transform="translate(1967.81,1252.40) scale(1.0043,1)" font-size="218.86" font-weight="700" fill="#000" stroke="#000" stroke-width="5" stroke-linejoin="miter" stroke-miterlimit="8">2</text><text transform="translate(2082.83,1252.40) scale(0.9958,1)" font-size="218.86" font-weight="700" fill="#000" stroke="#000" stroke-width="5" stroke-linejoin="miter" stroke-miterlimit="8">.</text><text transform="translate(2129.41,1252.40) scale(0.9058,1)" font-size="218.86" font-weight="700" fill="#000" stroke="#000" stroke-width="5" stroke-linejoin="miter" stroke-miterlimit="8">1</text><rect x="2136" y="1190" width="37" height="60" fill="#000"/><rect x="2170.8" y="1190" width="2.8" height="60" fill="#fff"/></mask>
<rect x="1940" y="1060" width="260" height="190" fill="#f1f0f5" mask="url(#m21)"/>
</svg>
<div class="edge" style="top:0;height:2px;background:linear-gradient(180deg,#c9c9c9,#f4f4f4)"></div>
<div class="edge" style="top:1238.5px;height:3.5px;background:linear-gradient(180deg,#fafafa,#d4d4d4)"></div>
</body></html>
